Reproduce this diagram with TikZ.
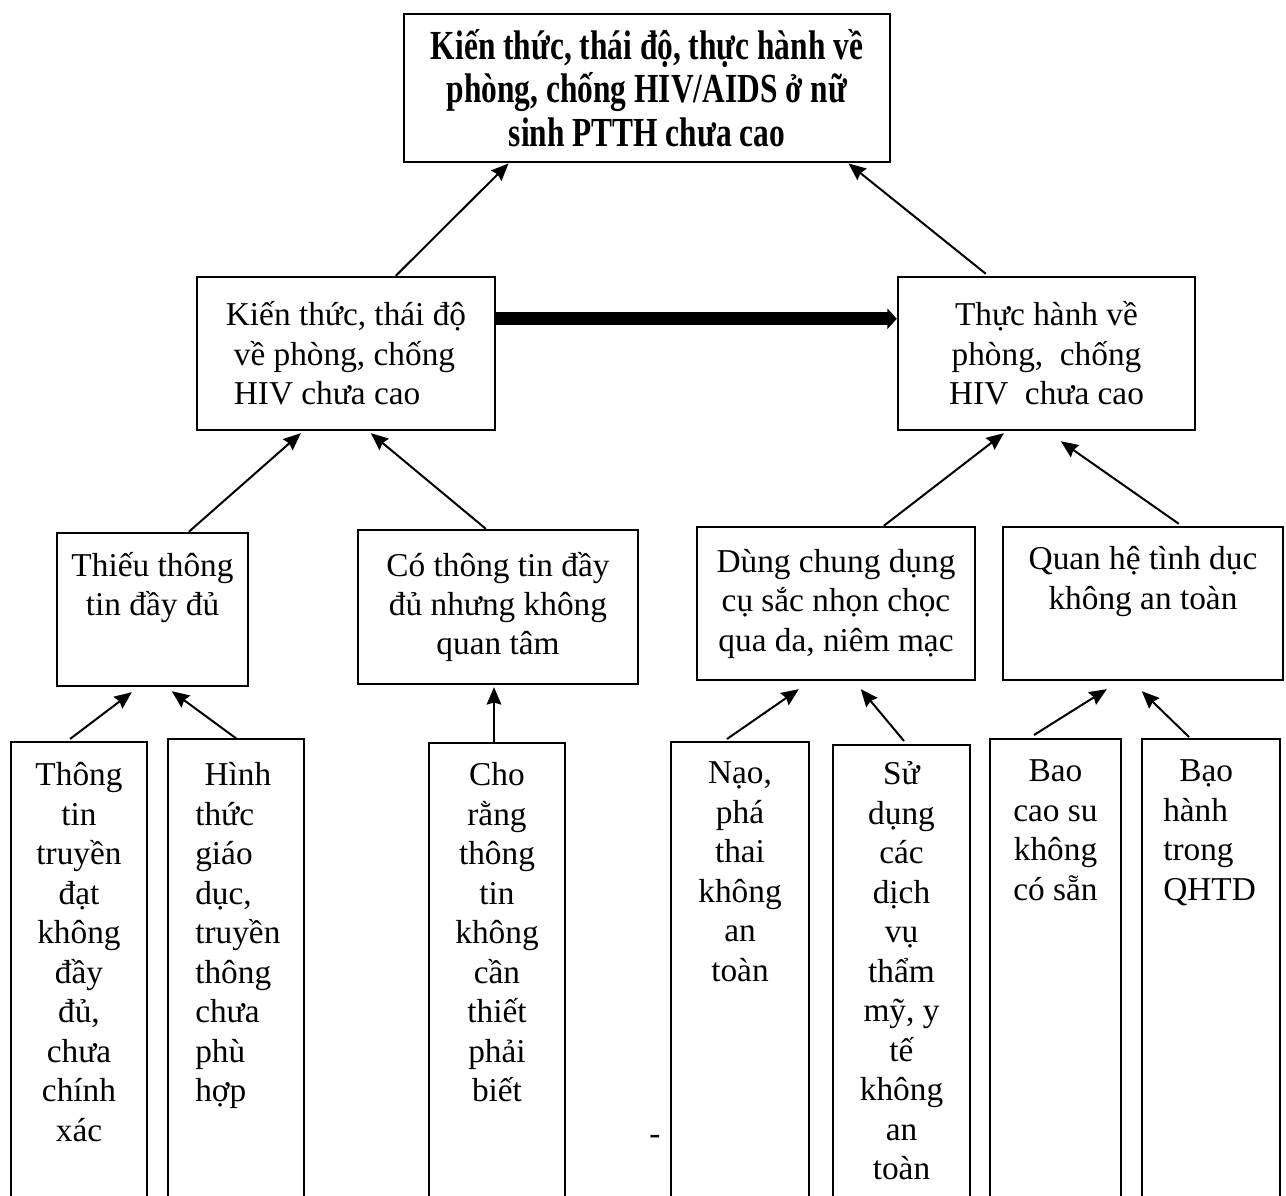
\documentclass[tikz,border=0pt]{standalone}
\usepackage{fontspec}
\setmainfont{Liberation Serif}
\newfontfamily\topfont[FakeStretch=0.76]{Liberation Serif}
\usetikzlibrary{arrows.meta,calc}
\begin{document}
\begin{tikzpicture}[x=0.75pt,y=-0.75pt,
  txt/.style={font=\fontsize{25pt}{29.6pt}\selectfont},
  bx/.style 2 args={draw, line width=1.8pt, minimum width={#1*0.75pt}, minimum height={#2*0.75pt}, inner sep=0pt, txt, align=center},
  col/.style 2 args={draw, line width=1.5pt, minimum width={#1*0.75pt}, minimum height={#2*0.75pt}, inner sep=0pt},
  coltxt/.style={txt, inner sep=0pt, anchor=north, align=center},
  coltxtl/.style={txt, inner sep=0pt, anchor=north west, align=left},
  arr/.style={line width=1.5pt, -{Stealth[length=13pt,width=11pt,inset=1.5pt]}}]
\useasboundingbox (0,0) rectangle (1286,1196);
\clip (0,0) rectangle (1286,1196);

% top
\node[draw, line width=2.2pt, minimum width={486*0.75pt}, minimum height={148*0.75pt}, inner sep=0pt, align=center,
  font=\topfont\bfseries\fontsize{31pt}{32.5pt}\selectfont] (top) at (647,88)
  {Kiến thức, thái độ, thực hành về\\phòng, chống HIV/AIDS ở nữ\\sinh PTTH chưa cao};

% level 2
\node[bx={298}{153}, align=left] (ml) at (346,353.5)
  {Kiến thức, thái độ\\\hspace{6pt}về phòng, chống\\\hspace{6pt}HIV chưa cao};
\node[bx={297}{153}] (mr) at (1046.5,353.5)
  {Thực hành về\\phòng,\ \ chống\\HIV\ \ chưa cao};

% level 3
\node[bx={191}{153}] (r3a) at (152.5,609.5) {Thiếu thông\\tin đầy đủ\\\strut};
\node[bx={280}{154}] (r3b) at (498,607) {Có thông tin đầy\\đủ nhưng không\\quan tâm};
\node[bx={278}{153}] (r3c) at (836,603.5) {Dùng chung dụng\\cụ sắc nhọn chọc\\qua da, niêm mạc};
\node[bx={280}{153}] (r3d) at (1143,603.5) {Quan hệ tình dục\\không an toàn\\\strut};

% level 4 columns
\node[col={136}{508}] (b1) at (79,996) {};
\node[col={136}{511}] (b2) at (236,994.5) {};
\node[col={136}{507}] (b3) at (497,996.5) {};
\node[col={138}{508}] (b4) at (740,996) {};
\node[col={137}{505}] (b5) at (901.5,997.5) {};
\node[col={131}{511}] (b6) at (1055.5,994.5) {};
\node[col={138}{511}] (b7) at (1211,994.5) {};

\node[coltxt] (t1) at ($(b1.north)+(0,17)$)
  {\strut Thông\\tin\\truyền\\đạt\\không\\đầy\\đủ,\\chưa\\chính\\xác};
\node[coltxtl] (t2) at ($(b2.north west)+(28,20)$)
  {\strut\hspace{7pt}Hình\\thức\\giáo\\dục,\\truyền\\thông\\chưa\\phù\\hợp};
\node[coltxt] (t3) at ($(b3.north)+(0,16)$)
  {\strut Cho\\rằng\\thông\\tin\\không\\cần\\thiết\\phải\\biết};
\node[coltxt] (t4) at ($(b4.north)+(0,15)$)
  {\strut Nạo,\\phá\\thai\\không\\an\\toàn};
\node[coltxt] (t5) at ($(b5.north)+(0,13)$)
  {\strut Sử\\dụng\\các\\dịch\\vụ\\thẩm\\mỹ, y\\tế\\không\\an\\toàn};
\node[coltxt] (t6) at ($(b6.north)+(0,16)$)
  {\strut Bao\\cao su\\không\\có sẵn};
\node[coltxtl] (t7) at ($(b7.north west)+(22,16)$)
  {\strut\hspace{12pt}Bạo\\hành\\trong\\QHTD};

\node[txt, inner sep=0pt] (dash) at (655,1140) {-};

% connectors
\draw[arr] ($(ml.north west)+(200,0)$) -- ($(top.south west)+(106,0)$);
\draw[arr] ($(mr.north west)+(89,-2)$) -- ($(top.south east)+(-43,0)$);
\draw[line width=9.75pt, -{Triangle[length=7pt,width=15pt]}]
  ($(ml.north east)+(0,43)$) -- ($(mr.north west)+(0,43)$);

\draw[arr] ($(r3a.north west)+(133,0)$) -- ($(ml.south west)+(105,2)$);
\draw[arr] ($(r3b.north west)+(129,0)$) -- ($(ml.south west)+(175,2)$);
\draw[arr] ($(r3c.north west)+(188,0)$) -- ($(mr.south west)+(107,2)$);
\draw[arr] ($(r3d.north west)+(177,-2)$) -- ($(mr.south west)+(164,10)$);

\draw[arr] ($(b1.north west)+(60,-2)$) -- ($(r3a.south west)+(76,5)$);
\draw[arr] ($(b2.north west)+(70,1)$) -- ($(r3a.south west)+(116,4)$);
\draw[arr] ($(b3.north)+(-3,0)$) -- ($(r3b.south)+(-4,2)$);
\draw[arr] ($(b4.north west)+(57,-2)$) -- ($(r3c.south west)+(103,8)$);
\draw[arr] ($(b5.north west)+(72,-3)$) -- ($(r3c.south west)+(165,8)$);
\draw[arr] ($(b6.north west)+(45,-3)$) -- ($(r3d.south west)+(105,8)$);
\draw[arr] ($(b7.north west)+(48,-1)$) -- ($(r3d.south west)+(140,10)$);
\end{tikzpicture}
\end{document}
